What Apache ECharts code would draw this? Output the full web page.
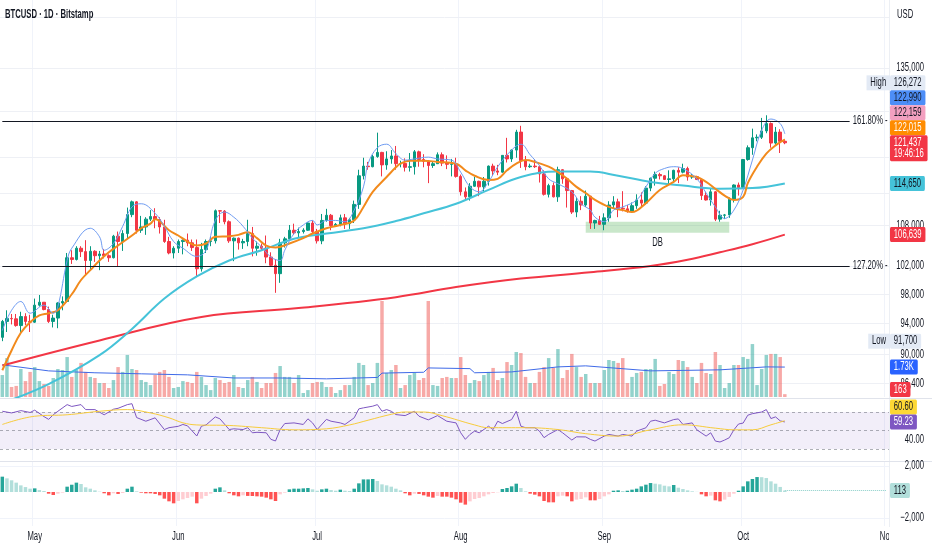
<!DOCTYPE html>
<html>
<head>
<meta charset="utf-8">
<title>BTCUSD 1D Bitstamp</title>
<script src="https://cdn.jsdelivr.net/npm/echarts@6.0.0/dist/echarts.min.js"></script>
<style>
  html, body { margin: 0; padding: 0; background: #fff; }
  #main { width: 932px; height: 550px; }
</style>
</head>
<body>
<div id="main"></div>
<script>
// one entry per day, starting Apr 24 2025; prices in thousands of USD
var firstDay = '2025-04-24';
var dayCount = 192; // up to Nov 1
var monthNames = ['Jan', 'Feb', 'Mar', 'Apr', 'May', 'Jun', 'Jul', 'Aug', 'Sep', 'Oct', 'Nov', 'Dec'];

var opens = [92.2,94.3,94.7,94.65,93.75,94.95,94.3,94.2,96.5,96.9,95.9,94.3,94.75,96.8,97.0,103.2,102.95,104.6,104.1,102.8,
  104.15,103.5,103.75,103.5,103.2,106.4,105.6,106.8,109.7,111.7,107.3,107.8,109.0,109.4,108.95,107.8,105.6,103.9,104.6,105.6,
  105.8,105.4,104.7,101.6,104.4,105.6,105.7,110.3,110.25,108.6,105.7,106.1,105.4,105.6,106.8,104.6,104.9,104.6,103.3,102.1,
  100.9,105.4,106.0,107.3,106.9,107.1,107.3,108.4,107.1,105.7,108.8,109.6,108.0,108.2,109.2,108.3,108.9,111.3,115.9,117.5,
  117.4,119.1,119.8,117.7,118.7,119.2,117.9,117.95,117.3,117.4,119.9,118.6,118.3,117.6,117.9,119.4,118.0,117.8,117.85,115.8,
  113.3,112.5,114.2,115.0,114.1,115.0,117.5,116.7,116.5,119.3,118.7,120.2,123.3,118.4,117.4,117.5,117.4,116.2,112.9,114.3,
  112.5,116.9,115.4,113.5,110.1,111.8,111.2,112.6,108.4,108.8,108.2,109.2,111.2,111.7,110.7,110.6,110.2,111.1,112.0,111.5,
  113.9,115.5,116.1,115.9,115.3,115.4,116.8,116.5,117.1,115.7,115.75,115.3,112.7,112.0,113.3,109.0,109.6,109.65,112.1,114.4,
  114.0,118.6,120.6,122.3,122.4,123.5,124.8,121.4,123.3,121.7];
var closes = [94.3,94.7,94.65,93.75,94.95,94.3,94.2,96.5,96.9,95.9,94.3,94.75,96.8,97.0,103.2,102.95,104.6,104.1,102.8,104.15,
  103.5,103.75,103.5,103.2,106.4,105.6,106.8,109.7,111.7,107.3,107.8,109.0,109.4,108.95,107.8,105.6,103.9,104.6,105.6,105.8,
  105.4,104.7,101.6,104.4,105.6,105.7,110.3,110.25,108.6,105.7,106.1,105.4,105.6,106.8,104.6,104.9,104.6,103.3,102.1,100.9,
  105.4,106.0,107.3,106.9,107.1,107.3,108.4,107.1,105.7,108.8,109.6,108.0,108.2,109.2,108.3,108.9,111.3,115.9,117.5,117.4,
  119.1,119.8,117.7,118.7,119.2,117.9,117.95,117.3,117.4,119.9,118.6,118.3,117.6,117.9,119.4,118.0,117.8,117.85,115.8,113.3,
  112.5,114.2,115.0,114.1,115.0,117.5,116.7,116.5,119.3,118.7,120.2,123.3,118.4,117.4,117.5,117.4,116.2,112.9,114.3,112.5,
  116.9,115.4,113.5,110.1,111.8,111.2,112.6,108.4,108.8,108.2,109.2,111.2,111.7,110.7,110.6,110.2,111.1,112.0,111.5,113.9,
  115.5,116.1,115.9,115.3,115.4,116.8,116.5,117.1,115.7,115.75,115.3,112.7,112.0,113.3,109.0,109.6,109.65,112.1,114.4,114.0,
  118.6,120.6,122.3,122.4,123.5,124.8,121.4,123.3,121.7,121.44];
var highs = [94.5,95.8,95.3,95.3,95.6,95.4,95.2,97.4,97.9,96.9,96.3,95.2,96.9,97.7,103.9,104.3,104.9,104.9,105.8,104.9,
  104.3,104.2,104.5,103.7,106.6,107.1,107.3,110.8,111.9,111.8,109.5,109.3,110.4,110.7,109.3,108.9,106.3,104.9,105.9,105.9,
  106.8,105.9,105.9,105.4,105.9,106.4,110.5,110.4,110.4,108.8,106.2,106.2,106.0,108.9,107.8,105.6,105.3,106.5,104.0,103.0,
  106.0,106.3,108.1,108.3,107.7,107.6,108.5,108.8,107.5,109.8,110.6,109.8,108.4,109.7,109.8,109.2,111.9,116.9,118.9,118.2,
  119.4,123.2,119.9,120.0,120.2,120.9,118.4,118.8,119.7,120.2,120.1,119.5,118.5,118.3,119.8,119.8,119.3,118.7,118.9,116.1,
  114.0,114.7,115.7,115.1,115.7,117.6,117.9,117.7,119.3,122.3,120.3,123.7,124.4,119.2,117.9,118.6,117.6,116.8,114.6,114.8,
  117.4,117.0,115.6,113.6,112.4,112.6,113.5,112.6,108.9,109.5,109.9,111.8,112.6,112.2,113.4,111.2,111.6,112.9,113.2,114.2,
  115.6,116.6,116.4,116.0,116.8,116.9,117.3,117.9,117.4,116.2,115.9,115.4,113.3,113.9,113.4,110.3,109.8,112.4,114.5,114.8,
  118.7,121.0,123.9,122.9,125.8,126.27,125.0,124.2,123.8,122.0];
var lows = [91.7,92.9,93.9,93.6,92.9,93.8,92.9,94.1,96.3,95.8,94.1,93.5,93.4,95.8,96.9,102.3,102.8,103.3,100.8,101.5,
  102.6,101.4,103.1,102.6,103.1,102.0,104.2,106.1,109.3,106.8,106.9,106.6,108.7,107.6,106.8,105.4,103.7,103.1,103.9,103.7,
  104.9,104.2,100.4,101.2,103.9,104.9,105.3,108.4,108.2,105.4,102.7,104.4,104.5,104.9,103.4,103.5,104.2,102.4,101.9,98.2,
  99.6,104.7,105.9,106.6,106.2,106.8,107.2,106.8,105.3,105.2,108.6,107.3,107.8,107.9,107.5,107.5,108.4,110.6,115.3,116.9,
  117.3,118.9,115.8,116.9,117.9,116.9,117.3,116.6,116.6,116.1,117.4,117.3,114.7,117.2,117.9,117.5,117.0,115.8,115.6,112.7,
  112.0,111.9,114.1,112.6,113.4,114.3,115.9,116.0,116.4,118.1,118.2,118.9,117.2,116.8,117.2,117.2,114.8,112.7,112.4,112.4,
  111.7,114.6,110.8,109.8,109.3,110.4,110.9,107.5,107.5,108.1,107.3,108.6,110.6,109.3,110.2,110.0,110.0,110.6,110.8,111.3,
  113.4,114.3,115.3,115.2,114.5,114.8,114.7,116.3,115.1,115.4,115.2,112.0,111.9,111.1,108.7,108.6,109.0,109.2,111.6,112.7,
  113.9,118.4,119.4,121.7,122.1,123.1,120.6,121.1,119.7,121.2];
var volumes = [1270,2250,580,640,1620,920,1450,1730,920,750,640,1100,1620,1560,2310,1160,1560,1970,1450,1160,
  1100,810,810,520,980,1730,1450,2430,1620,1560,980,870,690,1270,1450,1560,1160,520,580,920,
  870,810,1450,1160,690,400,1100,980,810,870,1270,580,520,980,1160,870,520,810,810,1390,
  1790,1160,1160,810,1270,230,400,810,870,870,580,580,230,400,690,690,1160,1970,1850,690,
  810,1970,5550,1390,1560,1850,520,690,1270,1390,980,1100,5550,690,640,1100,1160,1100,1100,2310,
  1270,810,980,920,1270,1450,1680,980,1100,2020,1850,2600,2540,1160,810,810,1450,1730,2250,1680,
  2770,1100,1560,2490,1730,1160,1330,810,810,810,1560,2140,2080,1970,2250,810,1160,1390,1450,1620,
  1620,2200,640,750,1450,1330,2140,2080,1730,1160,810,1970,1390,1330,2600,1850,520,810,1850,1850,
  2310,2200,3060,690,1620,2430,2490,2490,2310,163];
var macdHist = [1180,1050,900,720,510,380,256,280,150,77,-128,-230,-128,-50,410,560,720,615,360,256,
  128,25,-100,-256,-100,-150,-77,256,410,50,-50,-100,-100,-150,-256,-512,-717,-870,-690,-563,
  -460,-358,-870,-512,-307,-128,256,358,128,-100,-256,-333,-256,-300,-307,-333,-358,-435,-563,-690,
  -180,-50,205,256,256,280,307,205,100,205,256,150,100,180,100,77,256,665,970,970,
  1000,845,590,512,410,256,128,-100,-256,-128,-150,-256,-358,-435,-307,-358,-358,-435,-563,-820,
  -970,-720,-540,-460,-333,-180,-77,-25,230,307,435,640,307,50,-128,-205,-333,-690,-794,-794,
  -333,-282,-333,-717,-589,-537,-410,-640,-640,-537,-333,-180,100,128,77,100,180,256,435,563,
  690,640,590,485,435,540,330,230,128,50,10,-180,-333,-280,-640,-717,-590,-380,-128,100,
  435,820,1000,1150,1140,1075,820,640,390,113];

// moving averages at sample days
var fastDays = [0,2,4,6,9,11,12,14,15,19,21,22,24,26,28,30,33,35,37,39,42,44,46,48,50,52,54,56,58,60,
  61,63,65,67,68,70,72,74,76,78,79,81,83,85,87,89,92,94,97,99,101,103,105,107,110,112,114,116,118,120,
  123,125,127,128,130,132,134,137,139,141,143,145,147,150,152,154,156,158,160,162,164,166,168,169];
var fastVals = [93.1,95.8,97.0,95.4,96.5,95.4,96.3,102.8,104.6,107.6,106.3,104.3,105.3,107.9,110.9,111.4,109.9,107.9,105.6,104.6,
  103.4,104.3,108.8,110.1,109.3,107.9,106.1,104.8,103.3,102.8,104.3,106.8,108.1,108.8,108.1,108.8,108.8,108.6,110.4,114.1,
  117.9,120.6,121.2,119.6,118.5,118.7,119.0,118.7,118.5,116.5,114.1,113.3,114.9,117.4,120.2,121.2,119.4,117.6,115.4,114.6,
  113.3,111.4,110.4,109.3,108.6,110.4,110.9,112.0,114.1,116.3,117.1,117.4,117.1,115.4,113.1,110.9,109.1,110.4,113.6,118.5,
  123.6,125.6,124.8,122.99];
var midDays = [0,2,4,6,8,10,12,15,17,19,21,23,25,28,30,32,33,36,38,40,42,44,46,49,51,53,55,57,59,62,
  65,67,70,73,76,78,80,83,85,86,88,91,94,98,100,102,105,107,109,111,113,115,118,120,122,124,126,128,131,134,
  136,139,142,145,147,150,152,154,156,158,160,161,163,165,167,169];
var midVals = [88.0,90.5,92.8,94.2,95.1,95.4,95.8,98.0,100.0,101.4,102.8,104.0,105.0,106.5,107.6,108.3,109.0,107.3,106.5,105.6,
  105.0,105.3,106.3,106.4,106.6,107.0,106.1,105.0,104.7,105.3,106.1,106.8,107.6,108.1,108.8,110.9,113.3,115.7,117.3,117.9,
  118.4,118.4,118.2,117.9,116.8,115.9,115.2,115.4,116.8,117.9,118.5,118.2,117.4,116.5,115.4,114.1,113.1,112.0,110.9,110.4,
  110.1,111.5,113.6,114.9,116.0,115.7,114.9,113.8,112.7,112.0,112.5,114.7,117.4,119.6,121.0,122.015];
var slowDays = [0,10,21,28,35,42,49,56,63,70,78,85,91,98,105,112,120,127,133,140,147,155,162,169];
var slowVals = [84.0,86.3,89.9,93.3,97.4,100.5,102.8,104.3,106.0,106.8,107.6,108.7,109.9,111.4,113.6,115.7,116.6,116.6,115.9,114.9,
  114.3,113.8,113.9,114.65];
var longDays = [0,21,43,64,85,98,112,127,140,148,155,162,169];
var longVals = [88.6,91.8,94.9,96.1,97.6,99.0,100.2,101.1,102.0,102.9,104.0,105.2,106.639];
var volMaDays = [0,10,20,30,40,50,60,70,81,82,91,92,101,102,110,120,126,140,155,165,169];
var volMaVals = [1860,1510,1400,1340,1280,1100,1100,1050,1130,1380,1430,1680,1640,1400,1450,1740,1800,1510,1570,1740,1730];
var rsiDays = [0,2,4,6,7,9,10,11,12,14,15,17,18,20,22,24,25,27,28,29,31,33,35,36,38,39,40,42,43,44,
  46,47,49,50,52,53,54,55,57,58,59,60,61,63,65,66,67,68,70,71,73,74,76,77,78,80,81,82,83,84,
  85,87,89,90,92,94,96,98,99,100,101,102,103,105,106,107,108,110,111,112,113,115,116,117,118,120,121,123,124,126,
  127,128,130,131,133,134,136,137,139,140,141,143,145,146,147,149,150,152,153,154,155,156,157,158,159,160,161,162,164,165,
  166,167,168,169];
var rsiVals = [70.8,69,71.5,69.5,72,65,62,67,70.8,78,76,78,72.6,72.6,67,73,74,78,79,64,60,63.7,51,53,54.5,56.5,55,44,54.6,56,
  64.7,62.6,51,51.8,51,53,47.5,48,47.5,40.4,38.6,51,57.5,58.2,56.5,62.6,58.2,51,62,60,58.2,56.5,63.7,73.4,74.5,76.3,78,70.8,72.6,70.8,
  67.2,66.1,70.8,65.4,61.5,66.1,60,58.2,47.5,40.4,45.7,49.3,47.5,54.6,51,60,57.5,61.8,70.8,54.6,53,53,49.3,42.2,45.7,51,47.5,39.6,43.1,43,
  40.3,38.5,43.9,45.7,43.9,45.7,43.9,49.3,52.9,60,61.1,58.2,61.8,62.5,56.5,58.2,50.7,43.9,47.5,38.5,37.5,39.6,42.1,50.7,57,58,66.5,68.2,70,72.6,
  62.9,64.7,60.4,59.23];
var rsiMaDays = [0,7,14,21,27,32,36,39,42,49,56,63,70,75,79,84,87,91,95,102,105,113,120,126,133,140,147,154,158,162,166,169];
var rsiMaVals = [56.5,65.4,67,70.8,72.6,69,63.7,58.3,56,55.4,53,50.7,51.8,56,61.1,67.5,70,70,66,56,53,53,51,46.5,43.9,50.7,56.1,52.5,50.7,50.7,56.1,60.6];

// drawings and scale labels
var fibLevels = [125.23, 102.0];
var fibNames = ['161.80% -', '127.20% -'];
var fibEndDay = 183;
var dbDays = [126, 157];
var dbPrices = [106.9, 108.6];
var dbName = 'DB';
var priceGridTicks = [145, 135, 127, 119, 113, 108, 102, 98, 94, 90, 86.4];
var priceLabelTicks = [135, 108, 102, 98, 94, 90, 86.4];
var rsiGuides = [70, 50, 30];
var rsiLabelTicks = [40];
var macdLabelTicks = [2000, -2000];
var priceBadgeVals = [126.272, 122.99, 122.159, 122.015, 121.437, 114.65, 106.639, 91.7];
var priceBadgeTags = ['High', '', '', '', '', '', '', 'Low'];
var barCountdown = '19:46:16';
var volBadgeVals = [1730, 163];
var rsiBadgeVals = [60.60, 59.23];
var macdBadgeVals = [113];

var FONT = "'Liberation Sans', Arial, sans-serif";
var FS = 12;
var NARROW = 0.64; // the screenshot text is horizontally condensed
var UP = '#089981', DOWN = '#f23645';

var categories = [];
var t0 = Date.parse(firstDay + 'T00:00:00Z');
for (var i = 0; i < dayCount; i++) {
  categories.push(new Date(t0 + i * 86400000).toISOString().slice(0, 10));
}
function isMonthStart(idx, val) { return String(val).slice(8, 10) === '01'; }
function pairs(days, vals) { return days.map(function (d, k) { return [d, vals[k]]; }); }

var candleData = opens.map(function (o, k) { return [o, closes[k], lows[k], highs[k]]; });
var volumeData = volumes.map(function (v, k) {
  return { value: v, itemStyle: { color: closes[k] >= opens[k] ? 'rgba(38,166,154,0.5)' : 'rgba(239,83,80,0.5)' } };
});
var macdData = macdHist.map(function (v, k) {
  var prev = k > 0 ? macdHist[k - 1] : v;
  var c = v >= 0 ? (v >= prev ? '#26a69a' : '#b2dfdb') : (v <= prev ? '#ff5252' : '#ffcdd2');
  return { value: v, itemStyle: { color: c } };
});

function maLine(days, vals, color, width, smooth, xi) {
  return {
    type: 'line', xAxisIndex: xi || 0, yAxisIndex: xi || 0, data: pairs(days, vals),
    showSymbol: false, symbol: 'none', smooth: smooth, silent: true, z: 3,
    lineStyle: { color: color, width: width }
  };
}

var chart = echarts.init(document.getElementById('main'));
var option = {
  animation: false,
  backgroundColor: '#ffffff',
  textStyle: { fontFamily: FONT },
  grid: [
    { left: 0, right: 43, top: 0, height: 397 },
    { left: 0, right: 43, top: 297, height: 100 },
    { left: 0, right: 43, top: 400, height: 60 },
    { left: 0, right: 43, top: 462, height: 64 }
  ],
  xAxis: [0, 1, 2, 3].map(function (g) {
    return {
      type: 'category', gridIndex: g, data: categories, boundaryGap: true,
      axisLine: { show: false }, axisTick: { show: false }, axisLabel: { show: false },
      splitLine: { show: g !== 1, interval: isMonthStart, lineStyle: { color: '#f0f3fa', width: 1 } }
    };
  }),
  yAxis: [
    { type: 'log', logBase: 10, gridIndex: 0, min: 84.73, max: 148.66, show: false },
    { type: 'value', gridIndex: 1, min: 0, max: 5780, show: false },
    { type: 'value', gridIndex: 2, min: 18, max: 83, show: false },
    { type: 'value', gridIndex: 3, min: -2615, max: 2308, show: false }
  ],
  series: [
    {
      name: 'grid', type: 'line', xAxisIndex: 0, yAxisIndex: 0, data: [], silent: true, z: 0,
      markLine: {
        silent: true, symbol: 'none', z: 0, label: { show: false },
        lineStyle: { color: '#eef0f5', width: 1, type: 'solid' },
        data: priceGridTicks.map(function (v) { return { yAxis: v }; })
      }
    },
    {
      name: 'Volume', type: 'bar', xAxisIndex: 1, yAxisIndex: 1, data: volumeData,
      barWidth: '75%', silent: true, z: 1
    },
    maLine(volMaDays, volMaVals, '#3f6ae8', 1, false, 1),
    {
      name: 'BTCUSD', type: 'candlestick', xAxisIndex: 0, yAxisIndex: 0, data: candleData,
      barWidth: 3, silent: true, z: 2,
      itemStyle: { color: UP, color0: DOWN, borderColor: UP, borderColor0: DOWN, borderWidth: 1 },
      markLine: {
        silent: true, symbol: 'none', z: 4, label: { show: false },
        lineStyle: { color: '#131722', width: 1, type: 'solid' },
        data: fibLevels.map(function (lv) { return [{ coord: [0, lv] }, { coord: [fibEndDay, lv] }]; })
      },
      markArea: {
        silent: true, label: { show: false },
        itemStyle: { color: 'rgba(76,175,80,0.3)' },
        data: [[{ coord: [dbDays[0], dbPrices[1]] }, { coord: [dbDays[1], dbPrices[0]] }]]
      }
    },
    maLine(longDays, longVals, '#f23645', 2, 0.4),
    maLine(slowDays, slowVals, '#45c3d9', 2, 0.4),
    maLine(midDays, midVals, '#f28a1c', 2, 0.4),
    maLine(fastDays, fastVals, '#6f9cf2', 1, 0.4),
    {
      name: 'RSI', type: 'line', xAxisIndex: 2, yAxisIndex: 2, data: pairs(rsiDays, rsiVals),
      showSymbol: false, symbol: 'none', silent: true, z: 3,
      lineStyle: { color: '#7e57c2', width: 1 },
      markArea: {
        silent: true, itemStyle: { color: 'rgba(126,87,194,0.1)' },
        data: [[{ yAxis: rsiGuides[2] }, { yAxis: rsiGuides[0] }]]
      },
      markLine: {
        silent: true, symbol: 'none', z: 1, label: { show: false },
        lineStyle: { color: 'rgba(120,123,134,0.6)', width: 1, type: [3, 3] },
        data: rsiGuides.map(function (v) { return { yAxis: v }; })
      }
    },
    maLine(rsiMaDays, rsiMaVals, '#f7cc3c', 1, 0.4, 2),
    {
      name: 'MACD', type: 'bar', xAxisIndex: 3, yAxisIndex: 3, data: macdData,
      barWidth: '75%', silent: true, z: 2,
      markLine: {
        silent: true, symbol: 'none', z: 1, label: { show: false },
        data: [
          { yAxis: macdLabelTicks[0], lineStyle: { color: '#f0f3fa', width: 1, type: 'solid' } },
          { yAxis: macdLabelTicks[1], lineStyle: { color: '#f0f3fa', width: 1, type: 'solid' } },
          [{ coord: [macdHist.length - 1, macdBadgeVals[0]], lineStyle: { color: 'rgba(38,166,154,0.55)', width: 1, type: 'dotted' } },
           { coord: [dayCount - 1, macdBadgeVals[0]] }]
        ]
      }
    }
  ]
};
chart.setOption(option);

// condensed texts: time scale, price scale, badges
function yPix(axis, v) { return chart.convertToPixel({ yAxisIndex: axis }, v); }
function xPix(day) { return chart.convertToPixel({ xAxisIndex: 0 }, day); }
function withCommas(n) { return String(n).replace(/\B(?=(\d{3})+(?!\d))/g, ','); }
function priceText(k) { return withCommas(Math.round(k * 1000)); }

var gfx = [];
function addText(x, y, txt, extra, z) {
  var style = { text: txt, fill: '#131722', fontSize: FS, fontFamily: FONT, align: 'left', verticalAlign: 'middle' };
  for (var key in extra) style[key] = extra[key];
  gfx.push({ type: 'text', silent: true, z: z || 102, x: x, y: y, scaleX: NARROW, style: style });
}

// month labels go under the plot; the price-scale panel then covers the right edge
categories.forEach(function (c, k) {
  if (isMonthStart(k, c)) addText(xPix(k), 537, monthNames[parseInt(c.slice(5, 7), 10) - 1], { align: 'center' }, 99);
});
gfx.push({ type: 'rect', silent: true, z: 100, shape: { x: 889, y: 0, width: 43, height: 550 }, style: { fill: '#ffffff' } });
gfx.push({ type: 'line', silent: true, z: 101, shape: { x1: 889.5, y1: 0, x2: 889.5, y2: 527 }, style: { stroke: '#eceff4', lineWidth: 1 } });
[398.5, 461.5].forEach(function (yy) {
  gfx.push({ type: 'line', silent: true, z: 101, shape: { x1: 0, y1: yy, x2: 932, y2: yy }, style: { stroke: '#e0e3eb', lineWidth: 1 } });
});
addText(5, 15, 'BTCUSD · 1D · Bitstamp', { fontWeight: 'bold' });
addText(897, 15, 'USD');
addText((xPix(dbDays[0]) + xPix(dbDays[1])) / 2, yPix(0, dbPrices[0]) + 10, dbName, { align: 'center' });
fibLevels.forEach(function (lv, k) { addText(xPix(fibEndDay) + 3, yPix(0, lv), fibNames[k]); });

function tickLabel(axis, v, txt) { addText(924, yPix(axis, v), txt, { align: 'right' }); }
priceLabelTicks.forEach(function (v) { tickLabel(0, v, priceText(v)); });
rsiLabelTicks.forEach(function (v) { tickLabel(2, v, v.toFixed(2)); });
macdLabelTicks.forEach(function (v) { tickLabel(3, v, (v < 0 ? '\u2212' : '') + withCommas(Math.abs(v))); });

function placeGroup(items, anchor, top, bottom) {
  items.forEach(function (it) { it.cy = it.y + (it.shift || 0); });
  for (var j = anchor - 1; j >= 0; j--) {
    var lim = items[j + 1].cy - items[j + 1].h / 2 - items[j].h / 2;
    if (items[j].cy > lim) items[j].cy = lim;
  }
  for (var k = anchor + 1; k < items.length; k++) {
    var lim2 = items[k - 1].cy + items[k - 1].h / 2 + items[k].h / 2;
    if (items[k].cy < lim2) items[k].cy = lim2;
  }
  items.forEach(function (it) { it.cy = Math.min(bottom - it.h / 2, Math.max(top + it.h / 2, it.cy)); });
}
function drawBadges(items) {
  items.forEach(function (it) {
    if (it.tag) {
      addText(890, it.cy, it.tag, { fill: it.ink, align: 'right', backgroundColor: it.bg, padding: [2, 6, 2, 6], lineHeight: 11 }, 103);
    }
    addText(890, it.cy, it.text, { fill: it.ink, backgroundColor: it.bg, padding: [2, 6, 2, 6], lineHeight: 11, borderRadius: 2 }, 103);
  });
}

var priceFills = ['#e3eaf5', '#4d8ef7', '#f3a0c0', '#ff8c00', '#f23645', '#45c3d9', '#f23645', '#e3eaf5'];
var priceInks = ['#131722', '#131722', '#131722', '#ffffff', '#ffffff', '#131722', '#ffffff', '#131722'];
var priceItems = priceBadgeVals.map(function (v, k) {
  var last = k === 4;
  return { y: yPix(0, v), h: last ? 26 : 15, shift: last ? 5.5 : 0,
    text: priceText(v) + (last ? '\n' + barCountdown : ''), tag: priceBadgeTags[k], bg: priceFills[k], ink: priceInks[k] };
});
placeGroup(priceItems, 4, 0, 397);
drawBadges(priceItems);

var volItems = [
  { y: yPix(1, volBadgeVals[0]), h: 15, text: (volBadgeVals[0] / 1000).toFixed(2) + 'K', bg: '#2962ff', ink: '#ffffff' },
  { y: yPix(1, volBadgeVals[1]), h: 15, text: String(volBadgeVals[1]), bg: '#f23645', ink: '#ffffff' }
];
placeGroup(volItems, 0, 297, 397);
drawBadges(volItems);

var rsiItems = [
  { y: yPix(2, rsiBadgeVals[0]), h: 15, text: rsiBadgeVals[0].toFixed(2), bg: '#fdd835', ink: '#131722' },
  { y: yPix(2, rsiBadgeVals[1]), h: 15, text: rsiBadgeVals[1].toFixed(2), bg: '#7e57c2', ink: '#ffffff' }
];
placeGroup(rsiItems, 1, 399, 461);
drawBadges(rsiItems);

var macdItems = [{ y: yPix(3, macdBadgeVals[0]), h: 15, text: String(macdBadgeVals[0]), bg: '#b2dfdb', ink: '#131722' }];
placeGroup(macdItems, 0, 462, 527);
drawBadges(macdItems);

chart.setOption({ graphic: { elements: gfx } });
</script>
</body>
</html>
